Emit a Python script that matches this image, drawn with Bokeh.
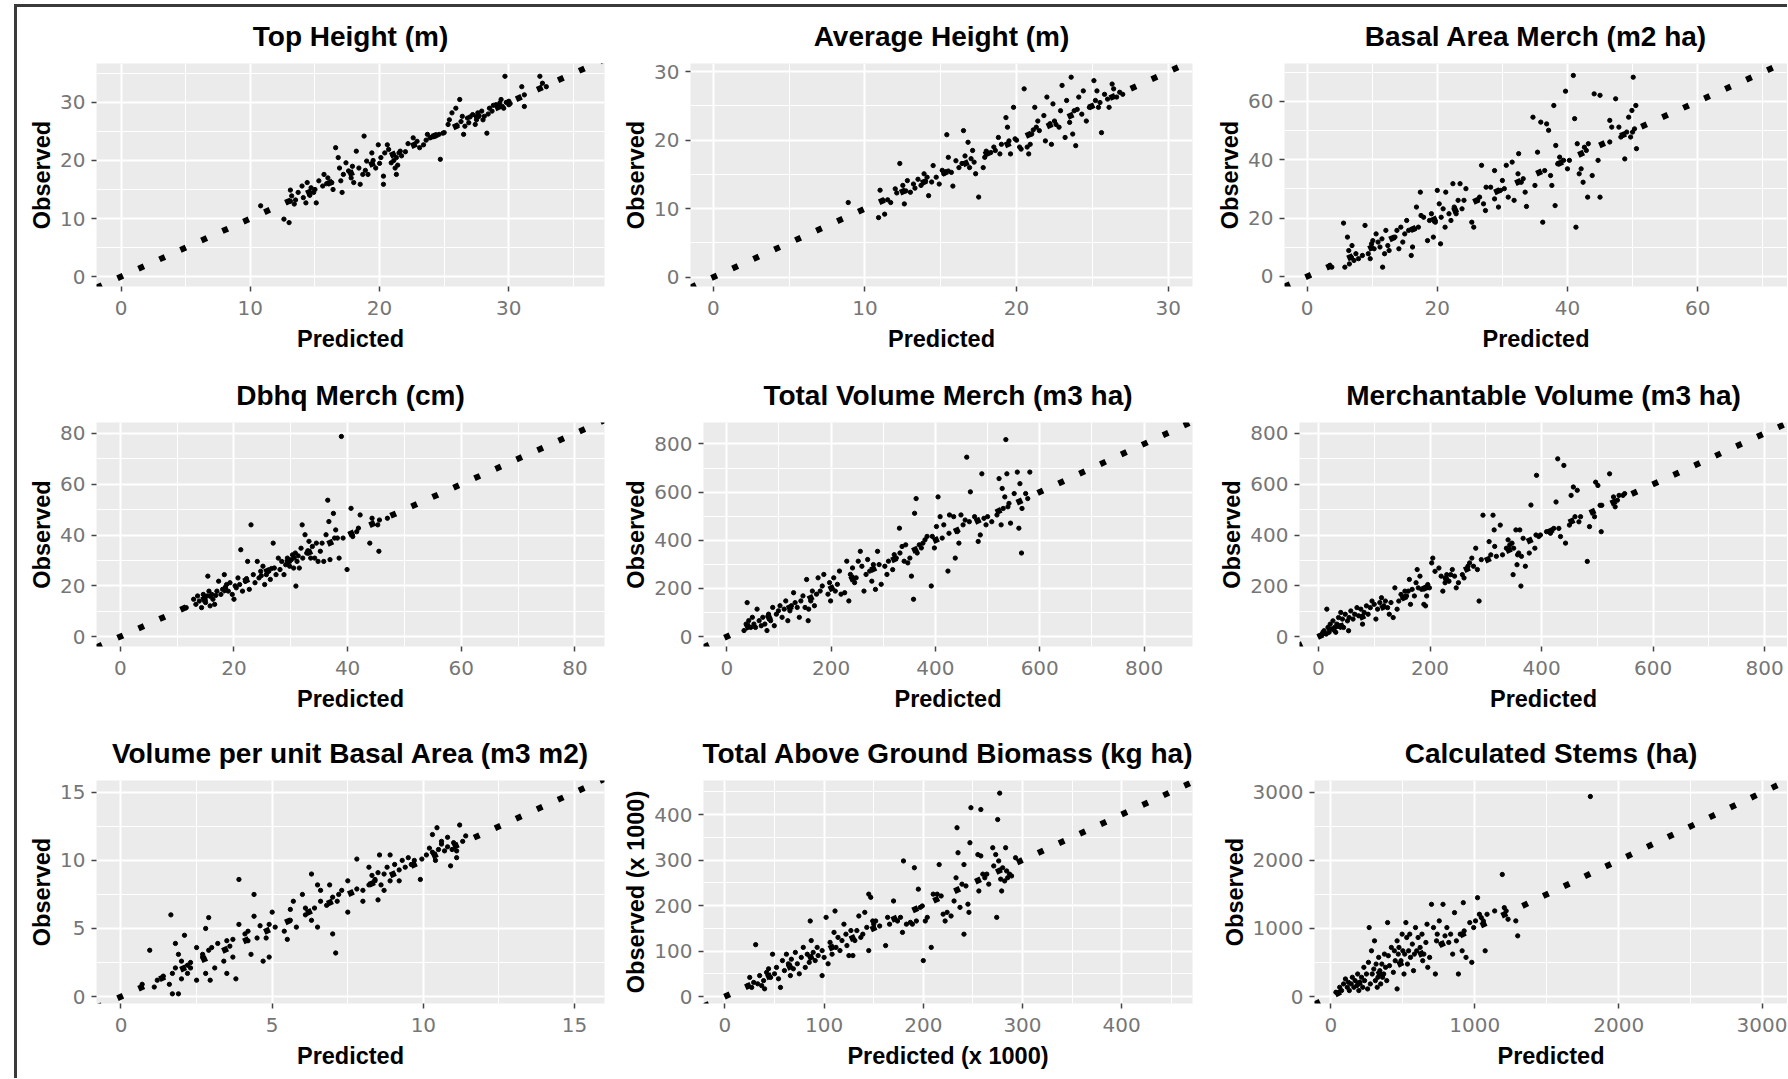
from bokeh.plotting import figure
from bokeh.models import Range1d, FixedTicker, Div
from bokeh.layouts import row, column
from bokeh.embed import file_html
from bokeh.resources import INLINE

# ---------------- data (predicted, observed) ----------------
top_height = [(10.8,12.2),(12.6,9.9),(13.0,9.3),(13.1,14.9),(13.2,13.9),(13.1,13.0),(13.4,12.5),(13.7,14.5),(14.0,15.6),(14.1,13.6),
 (14.3,12.7),(14.4,16.2),(14.7,15.3),(14.9,14.5),(15.1,12.7),(15.3,16.5),(15.6,15.6),(15.7,17.6),(16.0,17.0),(16.3,16.2),
 (16.6,22.2),(16.8,20.5),(16.9,18.7),(17.1,14.5),(17.2,17.6),(17.4,19.6),(17.6,18.2),(17.8,17.0),(18.0,16.2),(18.2,21.6),
 (18.4,18.7),(18.5,15.9),(18.7,17.6),(18.8,24.2),(19.0,19.9),(19.1,17.6),(19.4,21.3),(19.7,18.7),(19.9,22.7),(20.1,20.5),
 (20.3,17.3),(20.4,21.3),(20.6,22.7),(20.7,21.9),(20.9,19.6),(21.0,21.0),(21.2,18.7),(21.3,20.5),(21.5,21.3),(21.6,21.6),
 (21.3,17.6),(20.3,15.9),(22.6,23.9),(22.9,23.3),(23.1,22.2),(23.4,22.7),(23.7,24.5),(23.9,23.9),(24.3,24.2),(24.6,24.5),
 (24.7,20.2),(24.9,24.7),(25.3,26.2),(25.4,27.0),(25.6,28.2),(25.9,29.0),(26.2,30.5),(26.3,26.7),(26.5,24.5),(26.6,25.9),
 (26.8,27.3),(26.9,26.5),(27.2,27.9),(27.4,26.2),(27.5,27.0),(27.6,28.2),(27.9,28.5),(28.1,27.6),(28.3,24.7),(28.5,29.0),
 (28.7,28.5),(29.0,29.6),(29.3,29.9),(29.4,30.5),(29.6,29.0),(29.7,34.5),(30.0,29.6),(30.0,30.2),(31.0,32.7),(31.2,31.3),
 (31.2,29.3),(32.4,34.5),(32.6,33.3),(32.9,32.7),(13.5,13.2),(14.6,14.0),(15.0,15.0),(15.9,16.0),(16.4,15.0),(17.0,16.5),
 (17.9,19.0),(18.9,18.3),(19.5,20.0),(20.0,19.5),(21.1,20.0),(21.4,19.2),(21.7,20.8),(22.0,21.5),(24.0,24.0),(25.0,24.8),
 (26.0,26.0),(27.0,27.5),(28.0,27.0),(28.8,29.5),(29.5,29.3),(29.8,30.0),(30.1,29.8),(27.7,27.7),(26.4,27.6),(28.4,28.0),
 (22.2,22.9),(23.6,23.5)]

average_height = [(8.9,10.9),(10.9,8.7),(11.0,12.7),(11.3,9.2),(11.2,11.2),(11.5,11.3),(11.7,10.9),(12.0,12.9),(12.1,12.3),(12.3,16.6),
 (12.5,13.4),(12.6,10.7),(12.7,12.6),(12.8,14.1),(13.0,12.4),(13.2,13.6),(13.5,14.3),(13.7,13.4),(13.9,15.1),(14.1,14.6),
 (14.2,11.9),(14.4,13.9),(14.5,16.3),(14.7,14.6),(14.9,13.6),(15.1,15.6),(15.2,15.1),(15.4,20.8),(15.5,17.5),(15.7,15.3),
 (15.8,13.3),(16.0,17.0),(16.2,16.0),(16.5,21.4),(16.6,17.7),(16.8,19.7),(16.9,16.0),(17.0,17.3),(17.1,18.5),(17.3,15.1),
 (17.5,11.7),(17.8,16.0),(17.9,17.5),(18.3,18.2),(18.5,19.0),(18.8,20.4),(18.9,18.0),(19.0,19.4),(19.3,23.3),(19.4,21.9),
 (19.5,19.9),(19.6,18.0),(19.8,24.8),(19.9,20.2),(20.2,19.0),(20.3,18.7),(20.5,27.5),(20.7,19.0),(20.8,18.0),(20.9,19.4),
 (21.0,20.9),(21.2,24.8),(21.3,21.9),(21.4,22.8),(21.5,21.4),(21.8,23.6),(21.9,19.9),(22.0,26.3),(22.2,22.4),(22.3,19.4),
 (22.4,25.3),(22.5,22.8),(22.8,21.9),(22.9,24.3),(23.0,28.0),(23.2,20.4),(23.3,25.8),(23.6,29.2),(23.7,20.9),(23.8,24.3),
 (23.9,19.2),(24.1,26.3),(24.3,23.8),(24.4,27.2),(24.6,22.8),(24.8,24.8),(25.1,28.7),(25.2,25.8),(25.3,27.2),(25.4,24.8),
 (25.6,21.1),(25.8,26.7),(26.1,24.8),(26.3,28.2),(26.4,27.5),(26.6,26.3),(26.8,27.0),(27.0,26.7),(13.3,13.0),(14.0,14.0),
 (15.5,15.5),(16.4,16.6),(17.2,16.8),(18.0,18.4),(18.6,18.5),(20.0,20.0),(21.1,21.5),(22.6,22.3),(23.5,22.6),(24.0,24.5),
 (25.5,25.5),(26.0,26.0)]

basal_area = [(3.5,3.8),(3.8,3.2),(5.6,18.3),(5.8,3.2),(6.2,13.5),(6.4,8.9),(6.5,4.3),(6.8,6.6),(6.9,10.6),(7.2,5.5),
 (7.5,7.8),(7.9,6.1),(8.5,7.2),(8.9,17.5),(9.4,7.8),(9.7,6.1),(9.9,11.2),(10.1,12.3),(10.3,9.5),(10.6,14.6),
 (10.9,11.8),(11.2,10.1),(11.5,12.9),(11.6,3.2),(11.9,7.8),(12.1,15.8),(12.4,10.6),(12.6,8.9),(13.5,13.5),(13.8,15.8),
 (14.1,9.5),(14.4,16.9),(14.7,11.8),(15.0,14.6),(15.3,19.2),(15.6,15.8),(16.0,7.2),(16.2,10.1),(16.5,16.3),(16.8,23.8),
 (17.1,16.9),(17.4,28.9),(17.5,20.9),(17.9,20.3),(18.5,12.3),(18.8,19.2),(19.1,21.5),(19.4,13.5),(19.7,18.6),(20.0,29.5),
 (20.3,24.9),(20.5,11.2),(20.6,20.3),(20.9,23.2),(21.2,16.9),(21.3,28.9),(21.8,21.5),(22.1,19.2),(22.4,31.8),(22.6,23.8),
 (22.9,21.5),(23.2,26.1),(23.5,31.8),(23.8,23.2),(24.1,26.1),(24.4,30.1),(25.3,18.6),(25.6,16.9),(26.2,26.1),(26.5,27.2),
 (26.8,38.1),(27.1,24.9),(27.4,22.6),(27.5,30.6),(28.2,30.6),(28.8,36.3),(28.8,26.6),(29.4,23.8),(29.7,29.5),(30.0,32.9),
 (30.3,30.1),(30.6,38.1),(30.9,27.2),(31.5,39.2),(31.8,26.1),(32.4,35.2),(32.5,42.1),(32.9,32.3),(33.2,33.5),(33.5,28.9),
 (33.7,24.0),(34.7,54.6),(35.0,31.2),(35.4,42.6),(35.9,52.9),(36.2,18.6),(36.5,36.3),(36.8,52.3),(37.1,50.1),(37.4,34.6),
 (37.6,31.2),(37.9,58.6),(38.1,24.3),(38.2,44.9),(38.5,38.6),(38.8,40.9),(39.4,39.8),(39.7,63.5),(40.0,36.9),(40.3,39.8),
 (40.9,68.9),(41.1,54.1),(41.3,16.9),(41.5,45.5),(41.8,35.2),(42.1,36.9),(42.4,32.3),(42.6,44.3),(42.9,43.2),(43.1,27.2),
 (43.2,45.5),(43.8,34.6),(44.1,62.6),(44.7,39.8),(45.0,62.1),(45.0,27.2),(46.5,46.1),(46.5,53.5),(46.8,51.2),(47.4,60.9),
 (47.9,51.2),(48.2,47.8),(48.8,40.3),(49.1,49.5),(49.4,54.6),(49.9,56.9),(50.0,49.5),(50.1,68.3),(50.3,50.6),(50.5,58.6),
 (50.6,43.8),(49.7,47.8)]

dbhq_merch = [(11.6,11.4),(12.9,14.7),(13.3,12.7),(13.6,16.0),(13.9,14.0),(14.3,11.4),(14.6,16.6),(15.0,13.4),(15.3,16.0),(15.4,23.8),
 (15.6,17.9),(15.8,12.1),(16.1,16.6),(16.3,14.7),(16.6,12.7),(17.0,17.9),(17.3,21.8),(17.7,16.6),(18.0,18.6),(18.3,24.4),
 (18.7,20.5),(19.0,17.9),(19.3,21.2),(19.7,16.6),(20.0,14.7),(20.4,19.2),(20.7,23.1),(21.0,20.5),(21.2,34.2),(21.5,17.9),
 (22.0,21.8),(22.4,29.6),(22.7,18.6),(23.0,44.0),(23.4,24.4),(23.7,21.2),(24.1,29.6),(24.4,23.1),(24.7,25.7),(25.1,27.7),
 (25.4,20.5),(25.7,24.4),(26.1,25.7),(26.4,22.5),(26.9,36.8),(27.1,27.0),(27.4,24.4),(27.8,30.9),(28.1,26.4),(28.4,29.6),
 (28.8,24.4),(29.1,28.3),(29.4,30.9),(29.8,27.7),(30.1,30.3),(30.3,32.2),(30.5,27.0),(30.8,32.9),(30.9,19.9),(31.1,29.6),
 (31.5,27.0),(31.8,34.8),(32.0,44.0),(32.1,30.9),(32.5,40.1),(32.8,32.9),(33.2,37.5),(33.5,30.9),(33.8,35.5),(34.2,30.9),
 (34.5,36.8),(34.8,29.6),(35.2,33.6),(35.5,36.8),(35.8,29.6),(36.2,40.1),(36.5,53.7),(36.7,45.3),(36.9,30.3),(37.5,48.5),
 (37.7,38.8),(37.9,42.0),(38.2,38.8),(38.5,30.9),(38.9,78.8),(39.2,38.8),(39.9,26.4),(40.6,50.5),(40.9,39.4),(41.6,41.3),
 (41.9,42.7),(42.2,47.9),(43.9,36.8),(44.3,46.6),(45.3,44.0),(45.5,33.6),(45.6,45.9),(47.0,46.6),(14.8,15.2),(15.9,15.8),
 (16.8,16.2),(18.5,19.5),(20.2,20.0),(22.2,22.8),(24.8,24.0),(26.6,26.8),(29.5,29.0),(30.6,31.0),(31.3,31.8),(33.0,33.8)]

total_volume = [(33,25),(37,52),(39,141),(42,66),(46,38),(49,80),(52,52),(55,38),(58,114),(62,66),
 (66,45),(69,80),(73,52),(77,25),(80,93),(84,66),(88,121),(91,45),(95,93),(99,107),
 (102,128),(106,80),(110,114),(113,148),(117,66),(121,107),(124,128),(128,182),(131,141),(135,121),
 (139,80),(142,148),(146,169),(150,121),(153,237),(156,66),(157,114),(161,148),(164,189),(168,128),
 (172,176),(175,244),(179,189),(183,210),(186,258),(194,176),(197,224),(199,148),(201,203),(205,244),
 (208,189),(212,217),(216,272),(219,176),(226,182),(230,313),(234,148),(237,258),(241,285),(245,224),
 (248,244),(252,313),(256,354),(259,292),(263,189),(267,258),(270,320),(274,272),(278,230),(281,299),
 (285,196),(289,354),(292,299),(296,217),(303,292),(307,258),(310,313),(318,278),(321,340),(325,326),
 (331,450),(332,347),(336,374),(340,313),(343,381),(347,306),(351,326),(354,251),(358,155),(360,512),
 (363,573),(365,347),(369,381),(373,368),(376,388),(380,402),(384,416),(392,210),(394,416),(398,368),
 (402,457),(405,580),(409,498),(413,409),(416,464),(424,272),(426,429),(427,505),(435,498),(438,326),
 (442,436),(445,388),(449,505),(453,464),(457,484),(460,745),(465,477),(467,601),(475,498),(482,395),
 (486,422),(489,676),(493,491),(497,464),(500,498),(508,477),(518,505),(522,656),(526,464),(528,615),
 (530,532),(533,580),(535,818),(537,676),(539,539),(541,553),(544,471),(551,594),(557,683),(560,450),
 (562,635),(565,347),(566,532),(573,594),(577,573),(581,683)]

merch_volume = [(3,4),(7,10),(8,17),(10,23),(14,10),(15,108),(17,36),(19,17),(21,49),(24,30),
 (26,62),(29,36),(31,17),(33,49),(36,75),(38,43),(40,95),(43,69),(45,36),(48,88),
 (52,62),(54,23),(55,75),(58,101),(62,69),(65,88),(69,114),(72,82),(76,108),(79,49),
 (82,95),(86,121),(89,88),(93,114),(96,140),(100,127),(103,69),(106,108),(110,134),(113,153),
 (117,121),(120,140),(124,114),(127,88),(130,134),(134,75),(137,192),(141,108),(144,140),(148,166),
 (151,153),(155,179),(158,160),(161,179),(163,225),(165,127),(168,186),(172,160),(175,212),(177,264),
 (179,192),(182,238),(185,186),(189,127),(192,121),(194,160),(196,205),(199,192),(203,290),(205,309),
 (209,257),(216,270),(220,238),(223,179),(227,212),(230,244),(234,218),(237,244),(240,264),(244,238),
 (247,192),(251,212),(258,244),(261,231),(268,277),(271,290),(275,309),(278,277),(282,348),(285,264),
 (288,140),(292,303),(295,478),(306,374),(309,322),(313,478),(315,420),(316,355),(319,316),(326,439),
 (330,322),(337,348),(340,381),(343,361),(347,368),(349,244),(350,348),(354,420),(356,283),(357,322),
 (359,329),(361,420),(363,199),(364,316),(367,387),(371,277),(378,329),(381,518),(388,348),(390,400),
 (391,635),(395,394),(398,400),(409,413),(416,407),(422,426),(426,530),(429,700),(431,426),(434,394),
 (440,674),(443,368),(450,439),(453,556),(457,589),(460,472),(464,576),(467,452),(470,472),(482,296),
 (486,433),(495,472),(497,608),(501,595),(505,517),(507,413),(508,517),(522,641),(529,550),(532,511),
 (536,537),(539,556),(546,556),(549,563),(12,12),(20,28),(28,25),(35,40)]

vol_per_ba = [(0.7,0.9),(0.95,3.4),(1.1,0.7),(1.2,1.2),(1.4,1.5),(1.6,0.9),(1.65,6.0),(1.7,1.7),(1.7,0.2),(1.8,3.9),
 (1.8,2.1),(1.9,0.2),(1.9,3.1),(2.0,1.3),(2.0,2.6),(2.1,4.5),(2.2,2.3),(2.2,1.7),(2.3,2.5),(2.3,2.1),
 (2.5,1.2),(2.5,3.6),(2.7,3.1),(2.7,2.9),(2.8,1.7),(2.8,5.0),(2.9,5.8),(2.9,3.4),(2.95,1.2),(3.0,3.6),
 (3.1,2.1),(3.2,3.9),(3.4,2.6),(3.5,4.1),(3.5,1.7),(3.6,3.7),(3.7,2.9),(3.7,4.2),(3.8,1.3),(3.9,5.3),
 (3.9,8.6),(4.1,4.6),(4.2,4.1),(4.2,4.8),(4.3,3.1),(4.4,5.9),(4.4,7.5),(4.5,4.3),(4.6,5.2),(4.7,2.6),
 (4.8,4.3),(4.9,2.9),(4.9,5.3),(5.0,6.2),(5.1,5.1),(5.4,4.8),(5.5,4.2),(5.6,5.6),(5.6,6.4),(5.7,7.0),
 (5.8,5.1),(6.0,7.5),(6.1,6.0),(6.1,6.5),(6.3,9.0),(6.3,5.6),(6.4,6.5),(6.5,8.2),(6.5,5.1),(6.6,7.0),
 (6.6,7.8),(6.8,6.7),(6.9,8.2),(7.0,4.6),(7.0,7.3),(7.1,3.2),(7.15,7.0),(7.2,7.5),(7.3,7.8),(7.5,6.2),
 (7.5,8.5),(7.8,10.1),(7.8,7.9),(8.0,7.0),(8.0,7.8),(8.2,9.5),(8.2,8.2),(8.3,8.9),(8.4,8.6),(8.4,8.5),
 (8.5,9.1),(8.5,7.1),(8.55,10.4),(8.6,8.2),(8.7,9.0),(8.7,7.8),(8.8,9.5),(8.9,8.5),(8.9,10.4),(9.0,9.0),
 (9.05,9.7),(9.2,8.5),(9.2,9.3),(9.3,10.0),(9.4,9.5),(9.5,10.2),(9.6,9.7),(9.7,10.0),(9.9,8.6),(9.95,10.1),
 (10.1,10.4),(10.2,10.9),(10.3,11.9),(10.3,10.6),(10.4,10.0),(10.45,12.4),(10.5,10.8),(10.6,11.4),(10.6,11.2),(10.7,10.7),
 (10.8,11.7),(10.8,11.0),(10.9,9.6),(10.95,10.8),(11.0,11.3),(11.1,10.7),(11.1,10.2),(11.2,12.6),(11.3,11.4),(11.4,11.8)]

biomass = [(23,24),(25,42),(27,20),(29,31),(31,114),(33,28),(35,46),(37,24),(39,35),(40,17),
 (42,53),(44,61),(46,42),(48,93),(50,50),(52,64),(54,39),(56,20),(58,79),(60,57),
 (62,93),(64,72),(66,46),(67,82),(69,61),(71,97),(73,72),(75,50),(77,86),(79,108),
 (81,64),(83,93),(85,75),(86,166),(87,123),(89,97),(91,79),(93,108),(94,90),(98,46),
 (98,101),(100,86),(102,174),(104,72),(106,119),(108,93),(110,141),(111,188),(112,108),(114,130),
 (116,101),(118,123),(120,159),(122,137),(123,112),(125,90),(127,145),(129,90),(131,123),(133,145),
 (135,177),(137,130),(139,137),(141,185),(143,152),(145,225),(145,101),(147,218),(149,166),(150,159),
 (152,166),(156,155),(162,112),(164,174),(166,159),(170,210),(174,166),(177,174),(179,141),(180,298),
 (183,159),(187,163),(189,159),(191,283),(193,166),(195,236),(197,196),(199,199),(200,79),(202,166),
 (204,174),(208,108),(210,225),(214,225),(216,290),(218,221),(220,181),(222,166),(224,185),(228,177),
 (231,210),(233,261),(234,371),(235,316),(237,196),(239,247),(241,290),(241,137),(243,243),(245,203),
 (246,185),(247,338),(248,415),(255,312),(256,232),(258,309),(258,411),(260,269),(262,261),(264,269),
 (266,247),(270,327),(271,287),(273,312),(274,174),(275,389),(276,298),(277,447),(278,258),(279,232),
 (280,283),(282,254),(283,327),(284,276),(285,261),(287,269),(289,265),(293,305)]

stems = [(35,63),(61,136),(74,88),(88,185),(101,258),(114,136),(122,209),(128,88),(141,185),(149,283),
 (160,136),(168,234),(181,161),(186,331),(194,88),(202,209),(213,283),(221,136),(229,429),(234,234),
 (247,331),(255,112),(261,502),(266,1013),(274,185),(282,672),(287,331),(298,404),(303,818),(309,234),
 (314,477),(322,136),(327,283),(332,575),(340,380),(346,185),(354,477),(359,283),(367,331),(372,623),
 (380,429),(388,234),(394,1086),(399,599),(407,453),(420,721),(434,356),(441,672),(447,526),(460,112),
 (460,818),(468,623),(473,721),(487,526),(495,916),(500,672),(508,331),(513,623),(521,1086),(527,867),
 (532,477),(540,672),(548,916),(553,575),(566,770),(574,380),(580,623),(588,1013),(596,672),(606,867),
 (620,721),(633,916),(638,526),(646,623),(660,794),(668,1062),(673,429),(686,575),(699,1354),(713,1013),
 (726,331),(734,818),(739,916),(753,1111),(766,770),(779,1354),(793,891),(806,1013),(819,794),(832,916),
 (846,623),(859,1232),(872,818),(886,331),(899,916),(912,672),(920,1378),(926,964),(939,575),(965,1086),
 (979,502),(992,1013),(1005,1111),(1019,1451),(1032,1208),(1045,1159),(1059,1111),(1072,672),(1085,1208),(1138,1257),
 (1191,1792),(1205,1305),(1218,1257),(1231,1135),(1285,1111),(1298,891),(1803,2937)]

titles = ["Top Height (m)", "Average Height (m)", "Basal Area Merch (m2 ha)",
          "Dbhq Merch (cm)", "Total Volume Merch (m3 ha)", "Merchantable Volume (m3 ha)",
          "Volume per unit Basal Area (m3 m2)", "Total Above Ground Biomass (kg ha)", "Calculated Stems (ha)"]
x_labels = ["Predicted"] * 7 + ["Predicted (x 1000)", "Predicted"]
y_labels = ["Observed"] * 7 + ["Observed (x 1000)", "Observed"]
tick_values = [[0, 10, 20, 30], [0, 10, 20, 30], [0, 20, 40, 60],
               [0, 20, 40, 60, 80], [0, 200, 400, 600, 800], [0, 200, 400, 600, 800],
               [0, 5, 10, 15], [0, 100, 200, 300, 400], [0, 1000, 2000, 3000]]
series = [top_height, average_height, basal_area, dbhq_merch, total_volume, merch_volume,
          vol_per_ba, biomass, stems]

# ---------------- axis extents and layout (styling, not data) ----------------
x_ranges = [(-1.9, 37.4), (-1.5, 31.6), (-3.47, 73.8), (-4.19, 85.2), (-44.7, 892.9), (-34, 841),
            (-0.81, 15.99), (-21.6, 471.4), (-114, 3173)]
y_ranges = [(-1.7, 36.7), (-1.36, 31.2), (-3.43, 73.0), (-3.9, 84.3), (-41.2, 889), (-39, 843),
            (-0.51, 15.87), (-15.3, 474.8), (-102, 3172)]
col_w = [603, 580, 587]
row_h = [359, 358, 354]
b_left = [[79, 70, 84], [79, 81, 99], [79, 83, 114]]
b_right = [16, 8, 0]
b_top = [56, 54, 55]
b_bottom = [80, 78, 75]

FONT = "Liberation Sans"
TICK_FONT = "DejaVu Sans"


def make_panel(i):
    r, c = divmod(i, 3)
    xr, yr = x_ranges[i], y_ranges[i]
    p = figure(width=col_w[c], height=row_h[r], x_range=Range1d(*xr), y_range=Range1d(*yr),
               output_backend="svg", toolbar_location=None,
               min_border_left=b_left[r][c], min_border_right=b_right[c],
               min_border_top=b_top[r], min_border_bottom=b_bottom[r])
    p.title.text = titles[i]
    p.title.align = "center"
    p.title.text_font = FONT
    p.title.text_font_size = "28px"
    p.title.text_font_style = "bold"
    p.title.text_color = "black"
    p.title.standoff = 23
    p.background_fill_color = "#EBEBEB"
    p.border_fill_color = "white"
    p.outline_line_color = None

    ticks = tick_values[i]
    step = ticks[1] - ticks[0]
    lo = min(xr[0], yr[0])
    hi = max(xr[1], yr[1])
    minors = []
    m = ticks[0] - step / 2
    while m < hi:
        if m > lo:
            minors.append(m)
        m += step
    for ax in (p.xaxis[0], p.yaxis[0]):
        ax.ticker = FixedTicker(ticks=ticks, minor_ticks=minors)
        ax.axis_line_color = None
        ax.major_tick_line_color = "#444444"
        ax.major_tick_line_width = 1.5
        ax.major_tick_out = 5
        ax.major_tick_in = 0
        ax.minor_tick_line_color = None
        ax.major_label_text_font = TICK_FONT
        ax.major_label_text_font_size = "20px"
        ax.major_label_text_color = "#767676"
        ax.axis_label_text_font = FONT
        ax.axis_label_text_font_size = "23.5px"
        ax.axis_label_text_font_style = "bold"
        ax.axis_label_text_color = "black"
    p.xaxis.axis_label = x_labels[i]
    p.yaxis.axis_label = y_labels[i]
    p.xaxis.major_label_standoff = 9
    p.yaxis.major_label_standoff = 6
    p.xaxis.axis_label_standoff = 8
    p.yaxis.axis_label_standoff = 2

    for g in (p.xgrid[0], p.ygrid[0]):
        g.grid_line_color = "white"
        g.grid_line_width = 2
        g.minor_grid_line_color = "white"
        g.minor_grid_line_width = 1

    # 1:1 reference line across the panel
    p.line(x=[lo, hi], y=[lo, hi], line_color="black", line_width=6, line_dash="6 17")

    xs = [pt[0] for pt in series[i]]
    ys = [pt[1] for pt in series[i]]
    p.scatter(xs, ys, size=4.3, color="black")
    return p


panels = [make_panel(i) for i in range(9)]
grid = column(row(*panels[0:3]), row(*panels[3:6]), row(*panels[6:9]))

top_bar = Div(text="", width=1773, height=3, margin=(4, 0, 0, 14),
              styles={"background-color": "#3a3a3a"})
left_bar = Div(text="", width=3, height=1071, margin=(0, 0, 0, 14),
               styles={"background-color": "#3a3a3a"})
layout = column(top_bar, row(left_bar, grid))

open("out.html", "w").write(file_html(layout, INLINE))
